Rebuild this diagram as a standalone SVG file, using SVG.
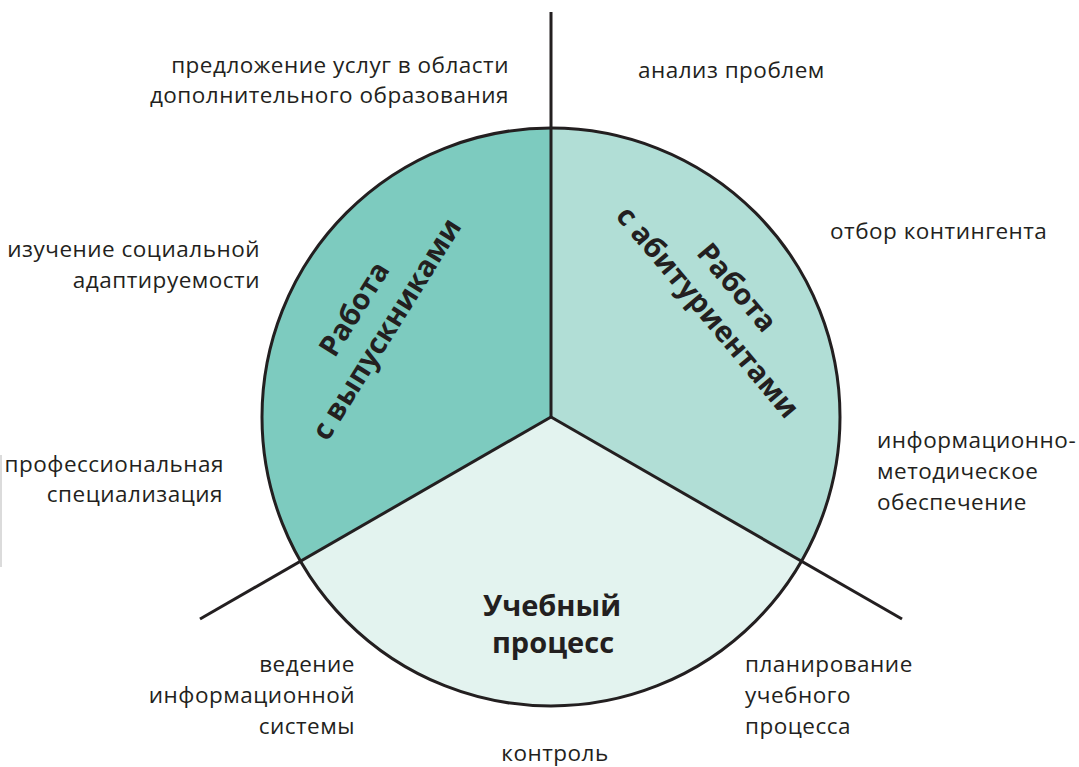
<svg xmlns="http://www.w3.org/2000/svg" width="1079" height="767" viewBox="0 0 1079 767">
<style>
.lbl{font-family:"Open Sans","Noto Sans","DejaVu Sans",sans-serif;font-size:22.5px;letter-spacing:0.5px;fill:#231f20}
.ttl{font-family:"Open Sans","Noto Sans","DejaVu Sans",sans-serif;font-size:29px;font-weight:bold;fill:#231f20}
.r{text-anchor:end}
.m{text-anchor:middle}
.ln{stroke:#231f20;stroke-width:3;fill:none;stroke-linecap:butt}
</style>
<rect width="1079" height="767" fill="#ffffff"/>
<line x1="1" y1="455" x2="1" y2="567" stroke="#cfcfcf" stroke-width="1.5"/>
<g id="sector-graduates">
<path d="M551,417 L551,128 A289,289 0 0,0 300.7,561.5 Z" fill="#7dcbbf"/>
<g transform="translate(372,320) rotate(-58)">
<text class="ttl m" x="0" y="-11">Работа</text>
<text class="ttl m" x="0" y="27">с выпускниками</text>
</g>
</g>
<g id="sector-applicants">
<path d="M551,417 L551,128 A289,289 0 0,1 801.3,561.5 Z" fill="#b1ded6"/>
<g transform="translate(721,301) rotate(50)">
<text class="ttl m" x="0" y="-11">Работа</text>
<text class="ttl m" x="0" y="27">с абитуриентами</text>
</g>
</g>
<g id="sector-study">
<path d="M551,417 L300.7,561.5 A289,289 0 0,0 801.3,561.5 Z" fill="#e3f3ef"/>
<text class="ttl m" x="552" y="616">Учебный</text>
<text class="ttl m" x="553" y="653">процесс</text>
</g>
<g id="connectors">
<circle cx="551" cy="417" r="289" class="ln" stroke-width="2.6"/>
<line class="ln" x1="551" y1="12" x2="551" y2="417"/>
<line class="ln" x1="551" y1="417" x2="200" y2="619"/>
<line class="ln" x1="551" y1="417" x2="902" y2="619"/>
</g>
<g id="label-offer">
<text class="lbl r" x="509" y="73">предложение услуг в области</text>
<text class="lbl r" x="509" y="103">дополнительного образования</text>
</g>
<g id="label-analysis"><text class="lbl" x="638" y="78">анализ проблем</text></g>
<g id="label-social">
<text class="lbl r" x="260" y="257">изучение социальной</text>
<text class="lbl r" x="260" y="288">адаптируемости</text>
</g>
<g id="label-selection"><text class="lbl" x="830" y="239">отбор контингента</text></g>
<g id="label-prof">
<text class="lbl r" x="224" y="472">профессиональная</text>
<text class="lbl r" x="223" y="502">специализация</text>
</g>
<g id="label-info-method">
<text class="lbl" x="877" y="448">информационно-</text>
<text class="lbl" x="877" y="479">методическое</text>
<text class="lbl" x="877" y="510">обеспечение</text>
</g>
<g id="label-infosys">
<text class="lbl r" x="355" y="672">ведение</text>
<text class="lbl r" x="355" y="703">информационной</text>
<text class="lbl r" x="355" y="734">системы</text>
</g>
<g id="label-planning">
<text class="lbl" x="745" y="672">планирование</text>
<text class="lbl" x="745" y="703">учебного</text>
<text class="lbl" x="745" y="734">процесса</text>
</g>
<g id="label-control"><text class="lbl m" x="555" y="761">контроль</text></g>
</svg>
